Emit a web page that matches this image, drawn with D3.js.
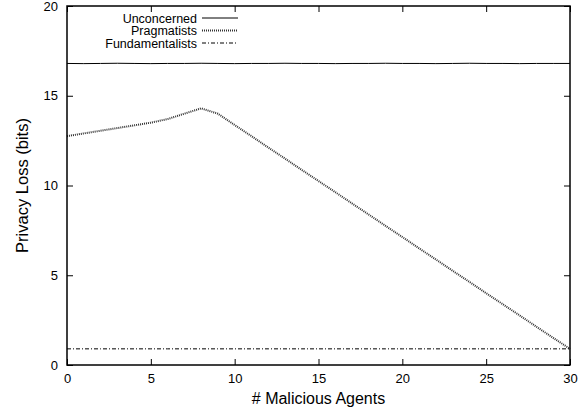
<!DOCTYPE html>
<html><head><meta charset="utf-8">
<script src="https://cdn.jsdelivr.net/npm/d3@7"></script>
<style>body{margin:0;background:#fff}text{font-family:"Liberation Sans",Arial,sans-serif}</style>
</head><body><svg id="c" width="587" height="410"></svg>
<script>
const agents = d3.range(0, 31);
const unconcerned = [16.80,16.79,16.80,16.81,16.80,16.79,16.80,16.80,16.81,16.80,16.79,16.80,16.80,16.81,16.80,16.80,16.79,16.80,16.80,16.81,16.80,16.80,16.79,16.80,16.81,16.80,16.80,16.79,16.80,16.80,16.80];
const pragmatists = [12.75,12.9,13.05,13.2,13.35,13.5,13.7,14.0,14.3,14.0,13.37,12.75,12.12,11.5,10.87,10.25,9.63,9.0,8.38,7.75,7.13,6.5,5.88,5.25,4.63,4.0,3.38,2.76,2.13,1.51,0.9];
const fundamentalists = agents.map(() => 0.9);
const seriesNames = ["Unconcerned","Pragmatists","Fundamentalists"];
const xTicks = [0,5,10,15,20,25,30];
const yTicks = [0,5,10,15,20];

const svg = d3.select("#c");
const L=67,R=570,T=6,B=365;
const x = d3.scaleLinear().domain([0,30]).range([L,R]);
const y = d3.scaleLinear().domain([0,20]).range([B,T]);

const styles = [
  {stroke:"#000", width:1, dash:null},
  {stroke:"#333", width:2, dash:"1,1"},
  {stroke:"#000", width:1, dash:"4,2,1,2"}
];
const data = [unconcerned, pragmatists, fundamentalists];
const FONT = "Liberation Sans, Arial, sans-serif";

const g = svg.append("g");
g.append("g").attr("transform",`translate(0,${B})`).call(d3.axisBottom(x).tickValues(xTicks).tickSize(-6).tickPadding(9).tickFormat(d3.format("d")))
 .call(a=>{a.select(".domain").remove();a.selectAll("text").attr("font-size",13).attr("fill","#000").attr("font-family",FONT);});
g.append("g").attr("transform",`translate(0,${T})`).call(d3.axisTop(x).tickValues(xTicks).tickSize(-6).tickFormat(""))
 .call(a=>a.select(".domain").remove());
g.append("g").attr("transform",`translate(${L},0)`).call(d3.axisLeft(y).tickValues(yTicks).tickSize(-6).tickPadding(9).tickFormat(d3.format("d")))
 .call(a=>{a.select(".domain").remove();a.selectAll("text").attr("font-size",13).attr("fill","#000").attr("font-family",FONT);});
g.append("g").attr("transform",`translate(${R},0)`).call(d3.axisRight(y).tickValues(yTicks).tickSize(-6).tickFormat(""))
 .call(a=>a.select(".domain").remove());

const line = d3.line().x((d,i)=>x(agents[i])).y(d=>y(d));
data.forEach((s,k)=>{
  svg.append("path").datum(s).attr("d",line).attr("fill","none")
    .attr("stroke",styles[k].stroke).attr("stroke-width",styles[k].width)
    .attr("stroke-dasharray",styles[k].dash);
});

svg.append("rect").attr("x",L).attr("y",T).attr("width",R-L).attr("height",B-T)
  .attr("fill","none").attr("stroke","#000").attr("stroke-width",1.5);

seriesNames.forEach((n,k)=>{
  const yy = 18 + k*12.5;
  svg.append("text").attr("x",197).attr("y",yy+4.5).attr("text-anchor","end").attr("font-size",12.5).text(n);
  svg.append("line").attr("x1",202).attr("x2",238).attr("y1",yy).attr("y2",yy)
    .attr("stroke",styles[k].stroke).attr("stroke-width",styles[k].width).attr("stroke-dasharray",styles[k].dash);
});

svg.append("text").attr("x",(L+R)/2).attr("y",404).attr("text-anchor","middle").attr("font-size",16).text("# Malicious Agents");
svg.append("text").attr("transform",`translate(28,${(T+B)/2}) rotate(-90)`).attr("text-anchor","middle").attr("font-size",16.5).text("Privacy Loss (bits)");
</script></body></html>
